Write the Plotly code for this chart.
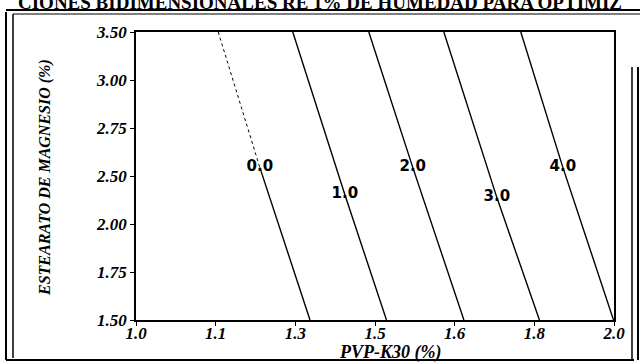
import plotly.graph_objects as go

# ---- data ----
levels = ["0.0", "1.0", "2.0", "3.0", "4.0"]
y_top = 3.50
y_bottom = 1.50
x_at_top = [1.172, 1.328, 1.487, 1.644, 1.805]
x_at_bottom = [1.364, 1.524, 1.686, 1.844, 1.999]
label_x = [1.259, 1.437, 1.579, 1.755, 1.893]
label_y = [2.56, 2.37, 2.56, 2.35, 2.56]

x_tickvals = [1.0, 1.0 + 1/6, 1.0 + 2/6, 1.5, 1.0 + 4/6, 1.0 + 5/6, 2.0]
x_ticktext = ["1.0", "1.1", "1.3", "1.5", "1.6", "1.8", "2.0"]
y_tickvals = [1.5, 1.5 + 1/3, 1.5 + 2/3, 2.5, 1.5 + 4/3, 1.5 + 5/3, 3.5]
y_ticktext = ["1.50", "1.75", "2.00", "2.50", "2.75", "3.00", "3.50"]

title_text = "CIONES BIDIMENSIONALES RE 1% DE HUMEDAD PARA OPTIMIZ"
x_title = "PVP-K30 (%)"
y_title = "ESTEARATO DE MAGNESIO (%)"

W, H = 640, 362
ML, MR, MT, MB = 136, 26, 32, 42
PW, PH = W - ML - MR, H - MT - MB

def px(xp):
    return (xp - ML) / PW

def py(yp):
    return (H - MB - yp) / PH

fig = go.Figure()

for i, lev in enumerate(levels):
    xs = [x_at_top[i], label_x[i], x_at_bottom[i]]
    ys = [y_top, label_y[i], y_bottom]
    if i == 0:
        fig.add_trace(go.Scatter(x=xs[:2], y=ys[:2], mode="lines",
                                 line=dict(color="black", width=1, dash="dot"),
                                 hoverinfo="skip", showlegend=False))
        fig.add_trace(go.Scatter(x=xs[1:], y=ys[1:], mode="lines",
                                 line=dict(color="black", width=1.4),
                                 hoverinfo="skip", showlegend=False))
    else:
        fig.add_trace(go.Scatter(x=xs, y=ys, mode="lines",
                                 line=dict(color="black", width=1.4),
                                 hoverinfo="skip", showlegend=False))

fig.add_trace(go.Scatter(x=label_x, y=label_y, mode="text", text=levels,
                         textfont=dict(family="DejaVu Sans", size=15, color="black", weight="bold"),
                         hoverinfo="skip", showlegend=False))

tickfont = dict(family="Liberation Serif", size=17, color="black")

def bi(labels):
    return ["<b><i>" + t + "</i></b>" for t in labels]

fig.update_xaxes(range=[1.0, 2.0], tickvals=x_tickvals, ticktext=bi(x_ticktext),
                 showgrid=False, zeroline=False, showline=True, linecolor="black",
                 linewidth=1.6, mirror=True, ticks="outside", ticklen=4,
                 tickcolor="black", tickfont=tickfont, ticklabelstandoff=-7)
fig.update_yaxes(range=[1.5, 3.5], tickvals=y_tickvals, ticktext=bi(y_ticktext),
                 showgrid=False, zeroline=False, showline=True, linecolor="black",
                 linewidth=1.6, mirror=True, ticks="outside", ticklen=4,
                 tickcolor="black", tickfont=tickfont)

annotations = [
    dict(text="<b>" + title_text + "</b>", xref="paper", yref="paper", x=px(320), y=py(15),
         xanchor="center", yanchor="bottom", showarrow=False,
         font=dict(family="Liberation Serif", size=19, color="black")),
    dict(text="<b><i>" + x_title + "</i></b>", xref="paper", yref="paper", x=px(390), y=py(352),
         xanchor="center", yanchor="middle", showarrow=False,
         font=dict(family="Liberation Serif", size=18, color="black")),
    dict(text="<b><i>" + y_title + "</i></b>", xref="paper", yref="paper", x=px(45), y=py(178),
         xanchor="center", yanchor="middle", textangle=-90, showarrow=False,
         font=dict(family="Liberation Serif", size=16, color="black")),
]

def line(x0, y0, x1, y1, w=1.5):
    return dict(type="line", xref="paper", yref="paper",
                x0=px(x0), y0=py(y0), x1=px(x1), y1=py(y1),
                line=dict(color="black", width=w))

shapes = [
    # outer page frame (double lines)
    line(6, 12, 6, 360, 2),
    line(13, 14, 13, 358, 1.5),
    line(6, 10, 640, 10, 2),
    line(13, 14, 640, 14, 1.2),
    line(6, 360, 634, 360, 2),
    line(632, 67, 632, 360, 1.5),
    line(638, 67, 638, 360, 2),
]

fig.update_layout(width=W, height=H, margin=dict(l=ML, r=MR, t=MT, b=MB),
                  paper_bgcolor="white", plot_bgcolor="white",
                  annotations=annotations, shapes=shapes, showlegend=False)

fig.write_html("out.html", config={"displayModeBar": False},
               post_script="document.body.style.margin='0';document.body.style.overflow='hidden';")
